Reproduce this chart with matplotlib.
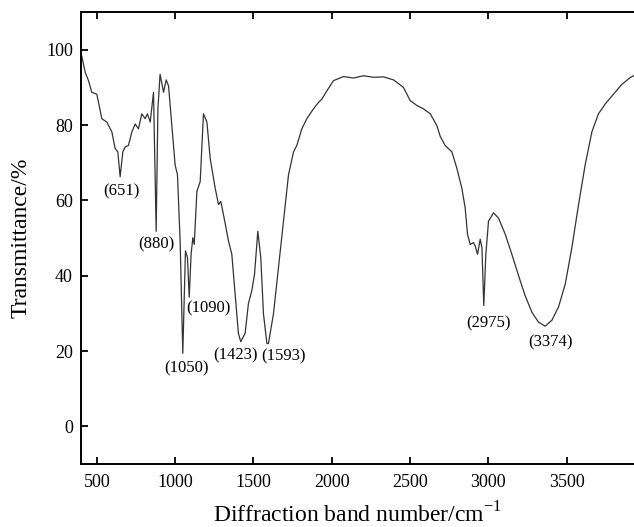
import matplotlib
matplotlib.use("Agg")
import matplotlib.pyplot as plt

wavenumber = [404, 426, 447, 468, 500, 532, 564, 596, 617, 634, 649, 666, 681, 702, 724, 745,
              766, 787, 809, 823, 841, 862, 879, 890, 904, 926, 943, 958, 979, 1000, 1015, 1032,
              1049, 1066, 1079, 1090, 1102, 1113, 1122, 1139, 1160, 1181, 1203, 1224, 1256, 1277,
              1292, 1313, 1341, 1362, 1383, 1404, 1419, 1447, 1468, 1490, 1507, 1528, 1547, 1564,
              1586, 1596, 1628, 1660, 1692, 1724, 1756, 1777, 1809, 1841, 1883, 1915, 1937, 1969,
              2011, 2075, 2139, 2203, 2267, 2331, 2395, 2458, 2501, 2544, 2586, 2629, 2671, 2693,
              2724, 2767, 2799, 2831, 2852, 2867, 2884, 2905, 2916, 2931, 2948, 2959, 2971, 2984,
              3001, 3033, 3065, 3108, 3150, 3193, 3235, 3278, 3320, 3363, 3406, 3448, 3491, 3533,
              3576, 3618, 3661, 3703, 3746, 3799, 3852, 3905, 3931]
transmittance = [98.3, 94.0, 91.8, 88.7, 88.2, 81.7, 80.8, 78.2, 73.8, 72.9, 66.3, 72.9, 74.2, 74.6,
                 78.2, 80.3, 79.0, 83.0, 81.7, 83.0, 80.8, 88.7, 51.8, 84.3, 93.5, 88.7, 92.0, 90.4,
                 79.9, 69.4, 66.8, 49.2, 19.4, 46.6, 44.8, 34.3, 45.7, 50.1, 48.3, 62.4, 65.0, 83.0,
                 80.8, 71.1, 63.2, 58.9, 59.7, 55.3, 49.2, 45.7, 35.2, 24.7, 22.5, 24.7, 32.6, 36.1,
                 40.4, 51.8, 44.8, 29.9, 22.0, 22.0, 29.9, 42.2, 54.5, 66.8, 72.9, 74.6, 79.0, 81.7,
                 84.3, 86.0, 86.9, 89.1, 91.8, 92.9, 92.5, 93.1, 92.7, 92.8, 92.0, 90.0, 86.5, 85.2,
                 84.3, 83.0, 79.9, 77.0, 74.6, 72.9, 68.5, 63.2, 58.0, 51.0, 48.3, 48.8, 47.9, 45.7,
                 49.7, 47.4, 32.1, 45.7, 54.5, 56.7, 55.3, 51.0, 45.7, 40.0, 34.7, 30.3, 27.7, 26.6,
                 28.2, 31.7, 37.8, 47.4, 58.9, 69.4, 78.2, 83.0, 85.6, 88.2, 90.8, 92.6, 93.2]

peak_labels = ["(651)", "(880)", "(1090)", "(1050)", "(1423)", "(1593)", "(2975)", "(3374)"]
label_x = [660, 879, 1213, 1075, 1383, 1692, 3001, 3399]
label_y = [62.4, 48.2, 31.2, 15.4, 18.9, 18.5, 27.4, 22.4]

xticks = [500, 1000, 1500, 2000, 2500, 3000, 3500]
yticks = [0, 20, 40, 60, 80, 100]

plt.rcParams['font.family'] = ['Liberation Serif', 'DejaVu Serif']

fig = plt.figure(figsize=(6.34, 5.27), dpi=100)
ax = fig.add_axes([0.128, 0.1195, 0.872, 0.8575])
ax.plot(wavenumber, transmittance, color='#333333', lw=0.9)

for t, x, y in zip(peak_labels, label_x, label_y):
    ax.text(x, y, t, ha='center', va='center', fontsize=12)

ax.set_xlim(400, 3930)
ax.set_ylim(-10, 110)
ax.set_xticks(xticks)
ax.set_yticks(yticks)
ax.tick_params(axis='both', direction='in', labelsize=13, width=1.3, length=5)
ax.tick_params(axis='x', top=True, pad=7)
ax.tick_params(axis='y', pad=6)
for s in ['left', 'bottom', 'top']:
    ax.spines[s].set_linewidth(1.4)
ax.spines['right'].set_visible(False)
ax.set_xlabel('Diffraction band number/cm$^{\\mathregular{-1}}$', fontsize=17, labelpad=8)
ax.set_ylabel('Transmittance/%', fontsize=17, labelpad=10)

fig.savefig('out.png', dpi=100)
